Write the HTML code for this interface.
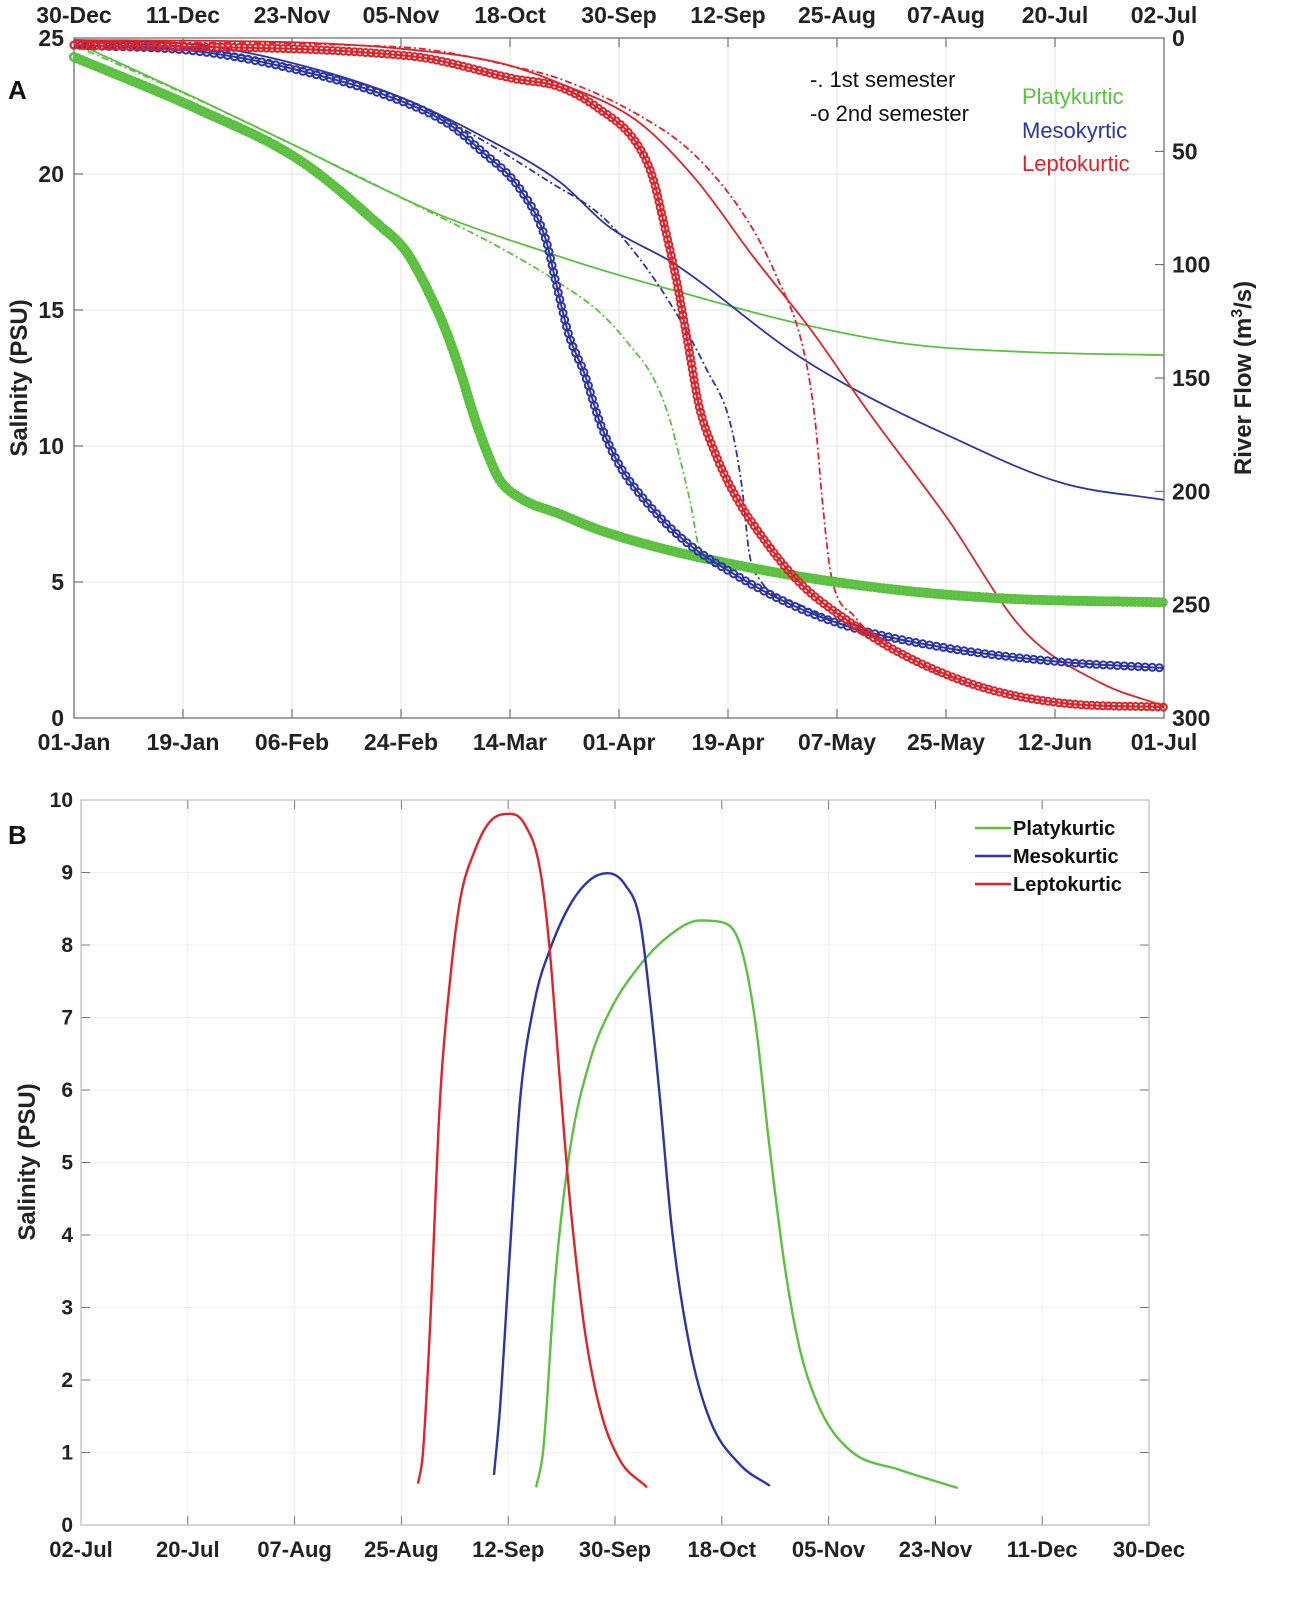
<!DOCTYPE html>
<html><head><meta charset="utf-8">
<style>
html,body{margin:0;padding:0;background:#fff;}
svg{display:block;font-family:"Liberation Sans",Arial,sans-serif;}
.t{font-weight:bold;fill:#222;font-size:23px;}
</style></head>
<body>
<svg id="chart" width="1291" height="1603" viewBox="0 0 1291 1603" xmlns="http://www.w3.org/2000/svg">
<g id="gA"></g>
<g id="gB"></g>
</svg>
<script>
// ---------- Panel A data ----------
const aBottomTicks=["01-Jan","19-Jan","06-Feb","24-Feb","14-Mar","01-Apr","19-Apr","07-May","25-May","12-Jun","01-Jul"];
const aTopTicks=["30-Dec","11-Dec","23-Nov","05-Nov","18-Oct","30-Sep","12-Sep","25-Aug","07-Aug","20-Jul","02-Jul"];
const aLeftTicks=[0,5,10,15,20,25];
const aRightTicks=[0,50,100,150,200,250,300];
// days since 01-Jan, salinity (PSU)
const platy2Days=[0,20.8,37.3,50.5,54.7,57.1,58.8,61.3,63.7,66.2,68.7,70.3,73.6,80.2,86.9,95.1,103.4,119.9,136.4,152.9,180];
const platy2Sal=[24.3,22.35,20.5,18.1,17.2,16.3,15.55,14.3,12.8,11.0,9.5,8.75,8.1,7.5,6.9,6.35,5.9,5.2,4.7,4.4,4.25];
const platy1Days=[0,20.8,37.3,57.1,70.3,79.4,86.9,91.8,95.9,98.4,100.1,101.7,103.4,106.7,119.9,136.4,152.9,180];
const platy1Sal=[24.74,22.7,20.96,18.79,17.3,16.1,14.9,13.7,12.4,10.96,9.5,8.0,6.2,5.8,5.2,4.7,4.4,4.25];
const platyFlowDays=[0,20.8,37.3,49.7,61.3,77.9,88.2,99.4,118.6,137.7,156.9,180];
const platyFlow=[1.8,27.4,48.5,64.9,79,94.4,103.2,111.6,125.3,135,138.5,139.9];
const meso2Days=[0,20.8,37.3,53.8,62.1,67,73.8,77.9,79.6,81.7,84.4,86.7,89.8,94.3,100.7,109,118.6,128.1,144.2,163.1,180];
const meso2Sal=[24.74,24.5,23.8,22.7,21.8,20.9,19.4,17.6,16.0,14.1,12.6,10.96,9.4,8.0,6.54,5.29,4.15,3.35,2.57,2.06,1.84];
const meso1Days=[0,20.8,37.3,53.8,67,78.6,86.9,93,99.4,104.5,108.3,110.3,111.5,113.3,119.9,128.1,144.2,163.1,180];
const meso1Sal=[24.67,24.56,23.9,22.83,21.3,19.7,18.5,17.0,14.9,12.8,10.9,8.5,6.07,5.07,4.15,3.35,2.57,2.06,1.84];
const mesoFlowDays=[0,20.8,37.3,53.8,67,80.2,88.2,99.4,118.6,128.8,144.2,163.1,180];
const mesoFlow=[0.9,3.1,11.9,26,42.8,63.5,83,100,138.5,154.9,175.2,196.3,203.8];
const lepto2Days=[0,55.4,72.8,80.2,86.7,93,95.6,97.4,99.4,101.4,103.2,105.8,108.9,113.4,119.9,128.1,137.7,150.4,163.1,180];
const lepto2Sal=[24.74,24.34,23.5,23.2,22.4,21.1,19.85,18.2,16.2,13.75,11.5,9.78,8.3,6.73,4.96,3.53,2.24,1.1,0.55,0.4];
const lepto1Days=[0,53.8,73.6,80.2,93,102.5,110.9,115.9,120.5,122.4,123.7,125,128.8,137.7,150.4,163.1,180];
const lepto1Sal=[24.85,24.67,23.9,23.5,22.2,20.7,18.4,16.3,13.5,10.9,7.7,5.3,3.75,2.24,1.1,0.55,0.4];
const leptoFlowDays=[0,37.3,55,70.3,80.2,93,102.5,112.1,121.7,131.3,144.2,156.9,169.6,180];
const leptoFlow=[0.9,2,5,11,20,36.6,61.8,96.2,128.8,165.4,211.8,261.6,284.6,294.7];
// ---------- Panel B data ----------
const bTicks=["02-Jul","20-Jul","07-Aug","25-Aug","12-Sep","30-Sep","18-Oct","05-Nov","23-Nov","11-Dec","30-Dec"];
const bYTicks=[0,1,2,3,4,5,6,7,8,9,10];
const bLeptoDays=[56.8,57.6,58.8,60.5,62.2,63.9,66.4,68.9,72.3,74.8,77.4,79,80.7,82.4,84.9,87.5,90.8,95.4];
const bLeptoSal=[0.57,0.97,2.69,5.86,7.52,8.62,9.31,9.70,9.81,9.66,9.03,7.93,6.14,4.48,2.69,1.59,0.9,0.52];
const bMesoDays=[69.6,70.6,72.3,74,76.5,79,82.4,85.8,88.8,91.7,94.2,95.9,97.6,99.6,102.7,106,111.1,116.1];
const bMesoSal=[0.69,1.59,3.79,5.86,7.24,7.93,8.55,8.9,8.99,8.83,8.34,7.24,5.86,4.07,2.41,1.45,0.83,0.54];
const bPlatyDays=[76.7,77.9,79.9,82.4,85.8,89.2,94.2,99.3,104.3,107.7,111.1,113.6,116.1,118.7,121.2,124.6,129.6,138,147.8];
const bPlatySal=[0.52,1.03,3.38,5.17,6.41,7.1,7.72,8.14,8.34,8.32,8.0,6.97,5.17,3.52,2.41,1.59,1.03,0.76,0.51];

const NS='http://www.w3.org/2000/svg';
const GREEN='#5cc040',BLUE='#2b35a8',RED='#e0232a';
function mk(parent,tag,attrs){const e=document.createElementNS(NS,tag);for(const k in attrs)e.setAttribute(k,attrs[k]);parent.appendChild(e);return e;}
function smoothPath(pts){ // monotone cubic in x (Fritsch-Carlson)
  const n=pts.length;const dx=[],s=[];
  for(let i=0;i<n-1;i++){dx[i]=pts[i+1][0]-pts[i][0];s[i]=(pts[i+1][1]-pts[i][1])/dx[i];}
  const m=[s[0]];
  for(let i=1;i<n-1;i++){m[i]=(s[i-1]*s[i]<=0)?0:(s[i-1]+s[i])/2;}
  m[n-1]=s[n-2];
  for(let i=0;i<n-1;i++){if(s[i]===0){m[i]=0;m[i+1]=0;continue;}
    const a=m[i]/s[i],b=m[i+1]/s[i],h=a*a+b*b;if(h>9){const t=3/Math.sqrt(h);m[i]=t*a*s[i];m[i+1]=t*b*s[i];}}
  let d='M'+pts[0][0].toFixed(1)+','+pts[0][1].toFixed(1);
  for(let i=0;i<n-1;i++){const h=dx[i]/3;
    d+=' C'+(pts[i][0]+h).toFixed(1)+','+(pts[i][1]+m[i]*h).toFixed(1)+' '+(pts[i+1][0]-h).toFixed(1)+','+(pts[i+1][1]-m[i+1]*h).toFixed(1)+' '+pts[i+1][0].toFixed(1)+','+pts[i+1][1].toFixed(1);}
  return d;}

// ---------- Panel A ----------
const gA=document.getElementById('gA');
const AX0=74,AX1=1164,AY0=718,AY1=38;
const axA=d=>AX0+d/180*(AX1-AX0);
const ayS=s=>AY0-s/25*(AY0-AY1);
const ayF=f=>AY1+f/300*(AY0-AY1);
for(let i=0;i<aBottomTicks.length;i++){const x=AX0+i*(AX1-AX0)/10;
  const gl=mk(gA,'line',{x1:x,x2:x,y1:AY1,y2:AY0,stroke:'#e6e6e6','stroke-width':1});
  
  mk(gA,'line',{x1:x,x2:x,y1:AY0,y2:AY0-9,stroke:'#555'});mk(gA,'line',{x1:x,x2:x,y1:AY1,y2:AY1+9,stroke:'#555'});
  const t=mk(gA,'text',{x:x,y:750,'text-anchor':'middle',class:'t'});t.textContent=aBottomTicks[i];
  
  const t2=mk(gA,'text',{x:x,y:23,'text-anchor':'middle',class:'t'});t2.textContent=aTopTicks[i];
  }
aLeftTicks.forEach(v=>{const y=ayS(v);
  const gl=mk(gA,'line',{x1:AX0,x2:AX1,y1:y,y2:y,stroke:'#e6e6e6'});
  
  mk(gA,'line',{x1:AX0,x2:AX0+9,y1:y,y2:y,stroke:'#555'});
  const t=mk(gA,'text',{x:64,y:y+8,'text-anchor':'end',class:'t'});t.textContent=v;
  });
aRightTicks.forEach(v=>{const y=ayF(v);
  mk(gA,'line',{x1:AX1,x2:AX1-9,y1:y,y2:y,stroke:'#555'});
  const t=mk(gA,'text',{x:1172,y:y+8,'text-anchor':'start',class:'t'});t.textContent=v;
  });
mk(gA,'rect',{x:AX0,y:AY1,width:AX1-AX0,height:AY0-AY1,fill:'none',stroke:'#666','stroke-width':1.2});

function drawA(days,vals,yf,color,style,name){
  const pts=days.map((d,i)=>[axA(d),yf(vals[i])]);
  const d=smoothPath(pts);
  const attrs={d:d,fill:'none',stroke:color,'stroke-width':style==='o'?2:1.8};
  if(style==='-.')attrs['stroke-dasharray']='7 3 2 3';
  const p=mk(gA,'path',attrs);
  
  if(style==='o'){const L=p.getTotalLength();const step=color===GREEN?4:(color===RED?5.5:7);
    const mg=mk(gA,'g',{});
    for(let l=0;l<=L;l+=step){const q=p.getPointAtLength(l);
      mk(mg,'circle',{cx:q.x.toFixed(1),cy:q.y.toFixed(1),r:color===GREEN?3.8:3.5,fill:'none',stroke:color,'stroke-width':color===GREEN?2.6:2});}}
}
drawA(platyFlowDays,platyFlow,ayF,GREEN,'-','platykurtic-flow-line');
drawA(mesoFlowDays,mesoFlow,ayF,BLUE,'-','mesokurtic-flow-line');
drawA(leptoFlowDays,leptoFlow,ayF,RED,'-','leptokurtic-flow-line');
drawA(platy1Days,platy1Sal,ayS,GREEN,'-.','platykurtic-1st-semester');
drawA(meso1Days,meso1Sal,ayS,BLUE,'-.','mesokurtic-1st-semester');
drawA(lepto1Days,lepto1Sal,ayS,RED,'-.','leptokurtic-1st-semester');
drawA(platy2Days,platy2Sal,ayS,GREEN,'o','platykurtic-2nd-semester');
drawA(meso2Days,meso2Sal,ayS,BLUE,'o','mesokurtic-2nd-semester');
drawA(lepto2Days,lepto2Sal,ayS,RED,'o','leptokurtic-2nd-semester');

// ---------- Panel B ----------
const gB=document.getElementById('gB');
const BX0=81,BX1=1149,BY0=1525,BY1=800;
const bx=d=>BX0+d/180*(BX1-BX0);
const by=s=>BY0-s/10*(BY0-BY1);
for(let i=0;i<bTicks.length;i++){const x=BX0+i*(BX1-BX0)/10;
  const gl=mk(gB,'line',{x1:x,x2:x,y1:BY1,y2:BY0,stroke:'#efefef'});
  
  mk(gB,'line',{x1:x,x2:x,y1:BY0,y2:BY0-9,stroke:'#777'});mk(gB,'line',{x1:x,x2:x,y1:BY1,y2:BY1+9,stroke:'#777'});
  const t=mk(gB,'text',{x:x,y:1557,'text-anchor':'middle',class:'t',style:'font-size:22px'});t.textContent=bTicks[i];
  }
bYTicks.forEach(v=>{const y=by(v);
  const gl=mk(gB,'line',{x1:BX0,x2:BX1,y1:y,y2:y,stroke:'#efefef'});
  
  mk(gB,'line',{x1:BX0,x2:BX0+9,y1:y,y2:y,stroke:'#777'});mk(gB,'line',{x1:BX1,x2:BX1-9,y1:y,y2:y,stroke:'#777'});
  const t=mk(gB,'text',{x:73,y:y+7,'text-anchor':'end',class:'t',style:'font-size:21px'});t.textContent=v;
  });
mk(gB,'rect',{x:BX0,y:BY1,width:BX1-BX0,height:BY0-BY1,fill:'none',stroke:'#bbb','stroke-width':1.2});
function drawB(days,vals,color,name){
  const pts=days.map((d,i)=>[bx(d),by(vals[i])]);
  const p=mk(gB,'path',{d:smoothPath(pts),fill:'none',stroke:color,'stroke-width':2.4});
  }
drawB(bPlatyDays,bPlatySal,GREEN,'platykurtic-line');
drawB(bMesoDays,bMesoSal,BLUE,'mesokurtic-line');
drawB(bLeptoDays,bLeptoSal,RED,'leptokurtic-line');
</script>
<svg style="position:absolute;left:0;top:0" width="1291" height="1603" font-family="Liberation Sans, Arial, sans-serif">
  <text x="8" y="99" font-size="26" font-weight="bold" fill="#111">A</text>
  <text x="8" y="844" font-size="26" font-weight="bold" fill="#111">B</text>
  <text transform="translate(27,378) rotate(-90)" text-anchor="middle" font-size="24" font-weight="bold" fill="#222">Salinity (PSU)</text>
  <text transform="translate(1251,378) rotate(-90)" text-anchor="middle" font-size="24" font-weight="bold" fill="#222">River Flow (m<tspan dy="-9" font-size="16">3</tspan><tspan dy="9">/s)</tspan></text>
  <text transform="translate(35,1162) rotate(-90)" text-anchor="middle" font-size="24" font-weight="bold" fill="#222">Salinity (PSU)</text>
  <g font-size="22" fill="#111">
    <text x="810" y="87">-. 1st semester</text>
    <text x="810" y="121">-o 2nd semester</text>
  </g>
  <g font-size="22">
    <text x="1022" y="104" fill="#5cc040">Platykurtic</text>
    <text x="1022" y="138" fill="#2b35a8">Mesokyrtic</text>
    <text x="1022" y="171" fill="#e0232a">Leptokurtic</text>
  </g>
  <g font-size="20" font-weight="bold" fill="#111">
    <line x1="975" x2="1011" y1="828" y2="828" stroke="#5cc040" stroke-width="2.5"/>
    <text x="1013" y="835">Platykurtic</text>
    <line x1="975" x2="1011" y1="856" y2="856" stroke="#2b35a8" stroke-width="2.5"/>
    <text x="1013" y="863">Mesokurtic</text>
    <line x1="975" x2="1011" y1="884" y2="884" stroke="#e0232a" stroke-width="2.5"/>
    <text x="1013" y="891">Leptokurtic</text>
  </g>
</svg>
</body></html>
